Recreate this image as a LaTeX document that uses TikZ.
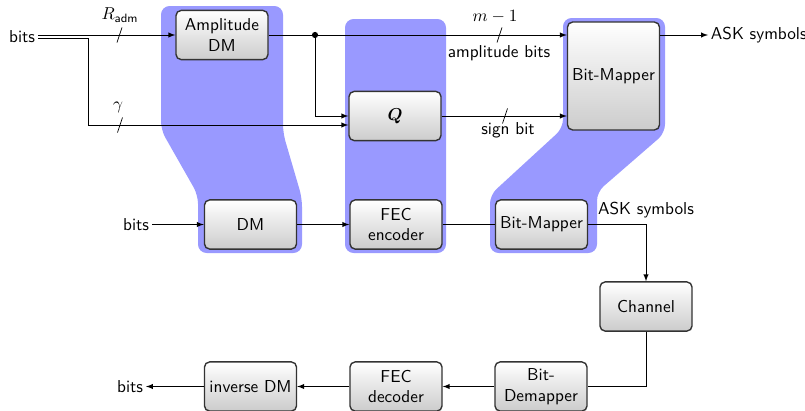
\documentclass[tikz,border=0pt]{standalone}
\usepackage{amsmath,amssymb}
\usetikzlibrary{arrows,shapes,positioning,calc}

\tikzset{
  block/.style={draw=black!80, thick, rounded corners=3pt, top color=white, bottom color=black!20,
                minimum width=53.4pt, minimum height=28.5pt, align=center, inner sep=2pt},
  zone/.style={fill=blue!40, rounded corners=5pt},
  lbl/.style={inner sep=1.5pt},
}

\begin{document}
\begin{tikzpicture}[x=0.58pt, y=-0.58pt, font=\sffamily, >=latex]
    \useasboundingbox (0,0) rectangle (805,411);

    % Shaded groups behind the blocks
    \fill[zone] (161,6) -- (283,6) -- (283,133) -- (302,198) -- (302,253)
        -- (198,253) -- (198,195) -- (161,130) -- cycle;
    \fill[zone] (345,19) rectangle (446,253);
    \fill[zone] (563,18) -- (665,18) -- (665,133) -- (597,192) -- (597,253)
        -- (490,253) -- (490,195) -- (563,128) -- cycle;

    % Upper row: amplitude DM, sign bits and the mapper
    \node[block] (amp) at (222,35) {Amplitude\\DM};
    \node[block] (Q) at (395,116) {$\boldsymbol{Q}$};
    \node[block, minimum height=62.6pt] (topmap) at (613.5,76) {Bit-Mapper};
    \node[lbl, anchor=east] (bitsin) at (38,36.5) {bits};
    \node[lbl, anchor=west] (asktop) at (708,35) {ASK symbols};

    \coordinate (split) at (88,38.5);
    \coordinate (dot) at (315,35);
    \fill (dot) circle (1.8pt);

    \draw[->] (bitsin.east |- amp.west) -- (amp.west);
    \draw[->] (bitsin.east |- split) -- (split) |- ($(Q.west)+(0,9)$);
    \draw (amp.east) -- (dot);
    \draw[->] (dot) -- (topmap.west |- dot);
    \draw[->] (dot) |- (Q.west);
    \draw[->] (Q.east) -- (topmap.west |- Q.east);
    \draw[->] (topmap.east |- dot) -- (asktop.west);

    % Bus widths
    \foreach \x/\y in {119.5/35, 120/125, 499.5/35, 505/116}
        \draw (\x-2.5,\y+7.5) -- (\x+2.5,\y-7.5);
    \node at (120,15) {$R_{\textsf{adm}}$};
    \node at (118,107) {$\gamma$};
    \node at (495,17) {$m-1$};
    \node at (499,53) {amplitude bits};
    \node at (508,130) {sign bit};

    % Middle row: transmitter chain
    \node[block] (dm) at (250.5,224.5) {DM};
    \node[block] (fec) at (396,224.5) {FEC\\encoder};
    \node[block] (map) at (541.5,224.5) {Bit-Mapper};
    \node[block] (chan) at (646,306.5) {Channel};
    \node[lbl, anchor=east] (bitsmid) at (152,224.5) {bits};

    \draw[->] (bitsmid) -- (dm);
    \draw[->] (dm) -- (fec);
    \draw (fec) -- (map);
    \draw[->] (map.east) -| node[pos=0.5, above] {ASK symbols} (chan.north);

    % Bottom row: receiver chain
    \node[block] (demap) at (541,386.5) {Bit-\\Demapper};
    \node[block] (fecdec) at (396,386.5) {FEC\\decoder};
    \node[block] (invdm) at (250.5,386.5) {inverse DM};
    \node[lbl, anchor=east] (bitsout) at (146,386.5) {bits};

    \draw (chan.south) |- (demap.east);
    \draw[->] (demap) -- (fecdec);
    \draw[->] (fecdec) -- (invdm);
    \draw[->] (invdm) -- (bitsout);
\end{tikzpicture}
\end{document}
